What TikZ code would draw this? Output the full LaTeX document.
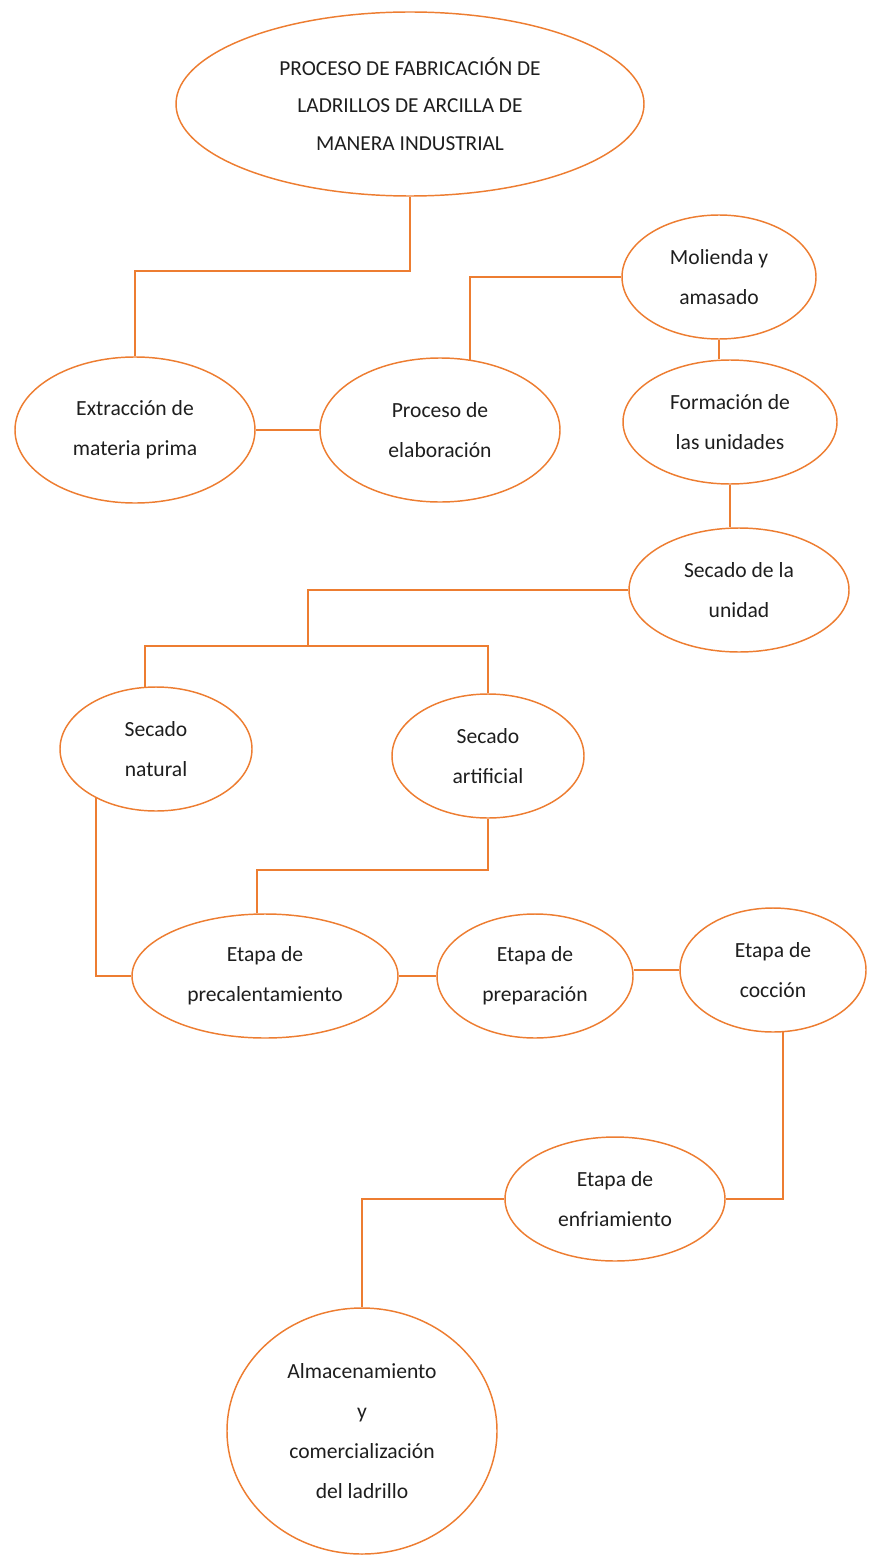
\documentclass[tikz,border=0pt]{standalone}
\usepackage{fontspec}
\setmainfont{Carlito}
\usetikzlibrary{shapes.geometric}
\definecolor{brick}{HTML}{ED7D31}
\definecolor{inkq}{HTML}{1E1E1E}

\tikzset{
  bubble/.style={ellipse,draw=brick,line width=1.1pt,inner sep=0pt,align=center,
    text=inkq,font=\fontsize{16.2}{30}\selectfont},
  link/.style={draw=brick,line width=1.5pt}
}

\begin{document}
\begin{tikzpicture}[x=0.75pt,y=-0.75pt,line join=miter]
  \useasboundingbox (0,0) rectangle (875,1562);

  \node[bubble,minimum width=351pt,minimum height=138pt,
    font=\fontsize{16}{28}\selectfont] (title) at (410,104)
    {PROCESO DE FABRICACIÓN DE\\LADRILLOS DE ARCILLA DE\\MANERA INDUSTRIAL};

  \node[bubble,minimum width=180pt,minimum height=109.5pt] (extr) at (135,430)
    {Extracción de\\materia prima};
  \node[bubble,minimum width=180pt,minimum height=108pt] (proc) at (440,430)
    {Proceso de\\elaboración};
  \node[bubble,minimum width=145.5pt,minimum height=93pt] (mol) at (719,277)
    {Molienda y\\amasado};
  \node[bubble,minimum width=160.5pt,minimum height=93pt] (form) at (730,422)
    {Formación de\\las unidades};
  \node[bubble,minimum width=165pt,minimum height=93pt] (secu) at (739,590)
    {Secado de la\\unidad};

  \node[bubble,minimum width=144pt,minimum height=93pt] (nat) at (156,749)
    {Secado\\natural};
  \node[bubble,minimum width=144pt,minimum height=93pt] (art) at (488,756)
    {Secado\\artificial};

  \node[bubble,minimum width=199.5pt,minimum height=93pt] (pre) at (265,976)
    {Etapa de\\precalentamiento};
  \node[bubble,minimum width=147pt,minimum height=93pt] (prep) at (535,976)
    {Etapa de\\preparación};
  \node[bubble,minimum width=139.5pt,minimum height=93pt] (coc) at (773,970)
    {Etapa de\\cocción};
  \node[bubble,minimum width=165pt,minimum height=93pt] (enf) at (615,1199)
    {Etapa de\\enfriamiento};
  \node[bubble,minimum width=202.5pt,minimum height=184.5pt] (alm) at (362,1431)
    {Almacenamiento\\y\\comercialización\\del ladrillo};

  % connectors
  \coordinate (split) at (308,646);
  \draw[link] (title.south) -- ++(0,74) -| (extr.north);
  \draw[link] (extr.east) -- (proc.west);
  \draw[link] (proc.67) |- (mol.west);
  \draw[link] (mol.south) -- (mol.south |- form.north);
  \draw[link] (form.south) -- (form.south |- secu.north);
  \draw[link] (secu.west) -| (split);
  \draw[link] (nat.100) |- (split) -| (art.north);
  \draw[link] (nat.-141) |- (pre.west);
  \draw[link] (art.south) -- ++(0,51) -| (pre.97);
  \draw[link] (pre.east) -- (prep.west);
  \draw[link] (coc.west) -- (coc.west -| prep.east);
  \draw[link] (coc.-81) |- (enf.east);
  \draw[link] (enf.west) -| (alm.north);
\end{tikzpicture}
\end{document}
